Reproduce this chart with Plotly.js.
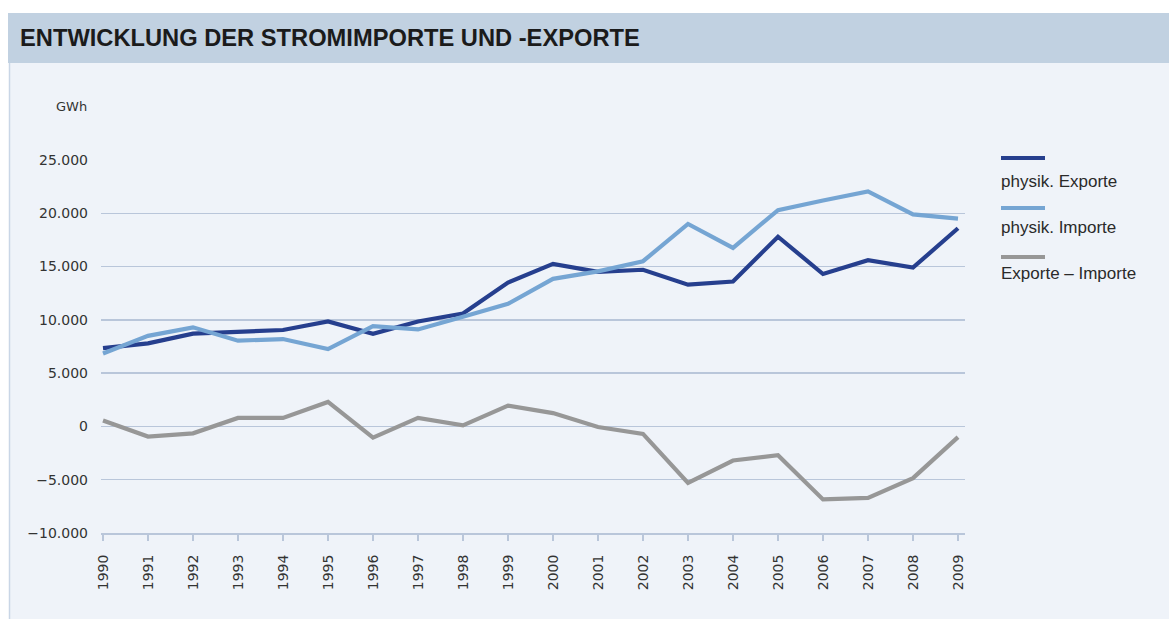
<!DOCTYPE html>
<html>
<head>
<meta charset="utf-8">
<script src="https://cdn.plot.ly/plotly-3.0.1.min.js"></script>
<style>
  html, body { margin: 0; padding: 0; background: #ffffff; }
  #chart { width: 1169px; height: 619px; }
</style>
</head>
<body>
<div id="chart"></div>
<script>
// ---- data ----
const years = [1990, 1991, 1992, 1993, 1994, 1995, 1996, 1997, 1998, 1999,
               2000, 2001, 2002, 2003, 2004, 2005, 2006, 2007, 2008, 2009];
const exportsGWh = [7350, 7800, 8700, 8900, 9050, 9850, 8700, 9850, 10600, 13500,
                    15250, 14500, 14700, 13300, 13600, 17800, 14300, 15600, 14900, 18600];
const importsGWh = [6850, 8500, 9300, 8050, 8200, 7250, 9400, 9100, 10300, 11500,
                    13850, 14550, 15500, 19000, 16750, 20300, 21200, 22050, 19900, 19500];
const netGWh = [550, -950, -650, 800, 800, 2300, -1050, 800, 100, 1950,
                1250, -50, -700, -5300, -3200, -2700, -6850, -6700, -4850, -1000];
const seriesNames = ["physik. Exporte", "physik. Importe", "Exporte \u2013 Importe"];
const yTickVals = [-10000, -5000, 0, 5000, 10000, 15000, 20000, 25000];
const titleText = "ENTWICKLUNG DER STROMIMPORTE UND -EXPORTE";
const unitLabel = "GWh";

// ---- styling / layout ----
const colors = ["#263f8e", "#75a5d3", "#979797"];
const W = 1169, H = 619;
const plotL = 101, plotR = 965, plotT = 160, plotB = 533;
const pw = plotR - plotL, ph = plotB - plotT;
const px = x => (x - plotL) / pw;     // pixel -> paper x
const py = y => (plotB - y) / ph;     // pixel -> paper y

const seriesData = [exportsGWh, importsGWh, netGWh];
const traces = seriesData.map((vals, i) => ({
  type: "scatter", mode: "lines",
  x: years, y: vals, name: seriesNames[i],
  line: { color: colors[i], width: 4.2 },
  hoverinfo: "x+y+name"
}));

const shapes = [
  // panel background
  { type: "rect", xref: "paper", yref: "paper", layer: "below",
    x0: px(9), x1: px(W + 5), y0: py(H + 5), y1: py(62),
    fillcolor: "#eff3f9", line: { width: 0 } },
  // panel left border
  { type: "line", xref: "paper", yref: "paper", layer: "below",
    x0: px(9.5), x1: px(9.5), y0: py(H + 5), y1: py(62),
    line: { color: "#c9d6e6", width: 1.5 } },
  // title band
  { type: "rect", xref: "paper", yref: "paper", layer: "below",
    x0: px(8), x1: px(W + 5), y0: py(63), y1: py(13),
    fillcolor: "#c1d1e1", line: { width: 0 } }
];

const annotations = [
  { xref: "paper", yref: "paper", x: px(18), y: py(38), xanchor: "left", yanchor: "middle",
    text: "<b>" + titleText + "</b>", showarrow: false,
    font: { family: "Liberation Sans, Arial, sans-serif", size: 23.7, color: "#1b1b1b" } },
  { xref: "paper", yref: "paper", x: px(89), y: py(107), xanchor: "right", yanchor: "middle",
    text: unitLabel, showarrow: false,
    font: { family: "DejaVu Sans, sans-serif", size: 13, color: "#333333" } }
];

// custom legend: line above label
const legLineY = [158, 208, 257];
const legTextY = [181, 227, 273];
seriesNames.forEach((n, i) => {
  shapes.push({ type: "line", xref: "paper", yref: "paper",
    x0: px(1001), x1: px(1045), y0: py(legLineY[i]), y1: py(legLineY[i]),
    line: { color: colors[i], width: 4 } });
  annotations.push({ xref: "paper", yref: "paper", x: px(999), y: py(legTextY[i]),
    xanchor: "left", yanchor: "middle", text: n, showarrow: false,
    font: { family: "Liberation Sans, Arial, sans-serif", size: 17, color: "#2a2a2a" } });
});

const layout = {
  width: W, height: H,
  margin: { l: plotL, r: W - plotR, t: plotT, b: H - plotB, pad: 0 },
  paper_bgcolor: "#ffffff",
  plot_bgcolor: "rgba(0,0,0,0)",
  separators: ",.",
  showlegend: false,
  xaxis: {
    type: "linear",
    range: [1990 - 2 / 45, 1990 + (plotR - 103) / 45],
    tickmode: "array", tickvals: years, ticktext: years.map(String),
    tickangle: -90, ticks: "outside", ticklen: 6, tickwidth: 1.5, tickcolor: "#b9c6da",
    showline: true, linecolor: "#b9c6da", linewidth: 2,
    showgrid: false, zeroline: false,
    ticklabelstandoff: 8,
    tickfont: { family: "DejaVu Sans, sans-serif", size: 14, color: "#333333" }
  },
  yaxis: {
    range: [-10000, 25000],
    tickmode: "array", tickvals: yTickVals,
    tickformat: ",d",
    showgrid: true, gridcolor: "#b9c6da", gridwidth: 1.5,
    zeroline: false, showline: false, ticks: "",
    ticklabelstandoff: 12,
    tickfont: { family: "DejaVu Sans, sans-serif", size: 14, color: "#333333" }
  },
  shapes: shapes,
  annotations: annotations
};

Plotly.newPlot("chart", traces, layout, { displayModeBar: false, staticPlot: true });
</script>
</body>
</html>
